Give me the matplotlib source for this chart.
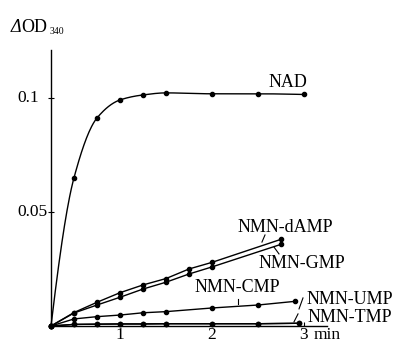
import numpy as np
import matplotlib
matplotlib.use("Agg")
import matplotlib.pyplot as plt
from matplotlib import transforms

# ---------------- data ----------------
nad_t = [0.25, 0.5, 0.75, 1.0, 1.25, 1.5, 2.0, 2.5, 3.0]
nad_v = [0.0, 0.065, 0.0912, 0.0991, 0.1013, 0.1022, 0.1018, 0.1018, 0.1015]

damp_t = [0.25, 0.5, 0.75, 1.0, 1.25, 1.5, 1.75, 2.0, 2.75]
damp_v = [0.0, 0.0059, 0.0104, 0.0146, 0.0180, 0.0208, 0.0250, 0.0279, 0.0380]

gmp_t = [0.25, 0.5, 0.75, 1.0, 1.25, 1.5, 1.75, 2.0, 2.75]
gmp_v = [0.0, 0.0057, 0.0092, 0.0126, 0.0162, 0.0192, 0.0228, 0.0259, 0.0358]

cmp_t = [0.25, 0.5, 0.75, 1.0, 1.25, 1.5, 2.0, 2.5, 2.9]
cmp_v = [0.0, 0.0031, 0.0041, 0.0048, 0.0058, 0.0063, 0.0079, 0.0092, 0.0108]

ump_t = [0.25, 0.5, 0.75, 1.0, 1.25, 1.5, 2.0, 2.5, 2.95]
ump_v = [0.0, 0.0007, 0.0008, 0.0009, 0.0009, 0.0010, 0.0010, 0.0010, 0.0012]

tmp_t = [0.25, 0.5, 0.75, 1.0, 1.25, 1.5, 2.0, 2.5, 2.95]
tmp_v = [0.0, 0.0007, 0.0008, 0.0009, 0.0009, 0.0010, 0.0010, 0.0010, 0.0012]

x_ticks = [1, 2, 3]
x_ticklabels = ["1", "2", "3"]
y_ticks = [0.05, 0.1]
y_ticklabels = ["0.05", "0.1"]


def smooth_line(x, y, n=300):
    """Monotone cubic (PCHIP) curve through the points, for drawing only."""
    x = np.asarray(x, float)
    y = np.asarray(y, float)
    h = np.diff(x)
    d = np.diff(y) / h
    m = np.zeros_like(y)
    for k in range(1, len(x) - 1):
        if d[k - 1] * d[k] <= 0:
            m[k] = 0.0
        else:
            w1 = 2 * h[k] + h[k - 1]
            w2 = h[k] + 2 * h[k - 1]
            m[k] = (w1 + w2) / (w1 / d[k - 1] + w2 / d[k])

    def end(h0, h1, d0, d1):
        s = ((2 * h0 + h1) * d0 - h0 * d1) / (h0 + h1)
        if np.sign(s) != np.sign(d0):
            s = 0.0
        elif np.sign(d0) != np.sign(d1) and abs(s) > abs(3 * d0):
            s = 3 * d0
        return s

    m[0] = end(h[0], h[1], d[0], d[1])
    m[-1] = end(h[-1], h[-2], d[-1], d[-2])
    xs = np.linspace(x[0], x[-1], n)
    idx = np.clip(np.searchsorted(x, xs) - 1, 0, len(x) - 2)
    hh = h[idx]
    tt = (xs - x[idx]) / hh
    h00 = 2 * tt**3 - 3 * tt**2 + 1
    h10 = tt**3 - 2 * tt**2 + tt
    h01 = -2 * tt**3 + 3 * tt**2
    h11 = tt**3 - tt**2
    ys = h00 * y[idx] + h10 * hh * m[idx] + h01 * y[idx + 1] + h11 * hh * m[idx + 1]
    return xs, ys


# ---------------- figure ----------------
W, H = 397, 344
FONT = "Liberation Serif"
FS = 13
FST = 12.5

fig = plt.figure(figsize=(W / 100, H / 100), dpi=100)
ax = fig.add_axes([51 / W, (H - 326) / H, (327 - 51) / W, (326 - 50) / H])
ax.set_xlim(0.25, 3.25)
ax.set_ylim(0, 0.121)

for s in ("top", "right"):
    ax.spines[s].set_visible(False)
for s in ("left", "bottom"):
    ax.spines[s].set_linewidth(1.0)

lw = 1.0
ms = 3.0
# NAD: smooth curve with measured points
xs, ys = smooth_line(nad_t, nad_v)
ax.plot(xs, ys, color="black", lw=lw, clip_on=False)
ax.plot(nad_t, nad_v, "o", color="black", ms=ms, clip_on=False)

for tt, vv in [(damp_t, damp_v), (gmp_t, gmp_v), (cmp_t, cmp_v),
               (ump_t, ump_v), (tmp_t, tmp_v)]:
    ax.plot(tt, vv, "-o", color="black", lw=lw, ms=ms, clip_on=False)

# ticks
ax.set_xticks(x_ticks)
ax.set_xticklabels(x_ticklabels, fontfamily=FONT, fontsize=FST)
ax.tick_params(axis="x", direction="in", length=3, width=0.8, pad=0.5)
ax.set_yticks(y_ticks)
ax.tick_params(axis="y", direction="inout", length=4, width=0.8, labelleft=False)
ytr = transforms.blended_transform_factory(fig.transFigure, ax.transData)
for v, lab in zip(y_ticks, y_ticklabels):
    ax.text(17 / W, v, lab, transform=ytr, ha="left", va="center",
            fontfamily=FONT, fontsize=FST)

# axis unit texts
xtr = transforms.blended_transform_factory(ax.transData, fig.transFigure)
ax.text(3.25, 1 - 335 / H, "min", transform=xtr, ha="center", va="center",
        fontfamily=FONT, fontsize=FST, clip_on=False)
fig.text(11 / W, 1 - 28 / H, "Δ", ha="left", va="center", fontfamily=FONT,
         fontsize=FS, style="italic")
fig.text(21 / W, 1 - 28 / H, "OD", ha="left", va="center", fontfamily=FONT,
         fontsize=FS)
fig.text(50 / W, 1 - 32 / H, "340", ha="left", va="center", fontfamily=FONT,
         fontsize=7)

# series labels
labels = [
    ("NAD", 2.83, 0.1066),
    ("NMN-dAMP", 2.80, 0.0430),
    ("NMN-GMP", 2.98, 0.0276),
    ("NMN-CMP", 2.28, 0.0167),
    ("NMN-UMP", 3.50, 0.0118),
    ("NMN-TMP", 3.50, 0.0039),
]
for txt, x, y in labels:
    ax.text(x, y, txt, ha="center", va="center", fontfamily=FONT, fontsize=FS,
            clip_on=False)

# pointer strokes
pointers = [
    ((2.576, 0.0399), (2.543, 0.0368)),
    ((2.674, 0.0346), (2.728, 0.0316)),
    ((2.283, 0.0118), (2.283, 0.0096)),
    ((2.989, 0.0123), (2.946, 0.0075)),
    ((2.935, 0.0053), (2.891, 0.0018)),
]
for (x0, y0), (x1, y1) in pointers:
    ax.plot([x0, x1], [y0, y1], color="black", lw=0.8, clip_on=False)

fig.savefig("out.png", dpi=100)
